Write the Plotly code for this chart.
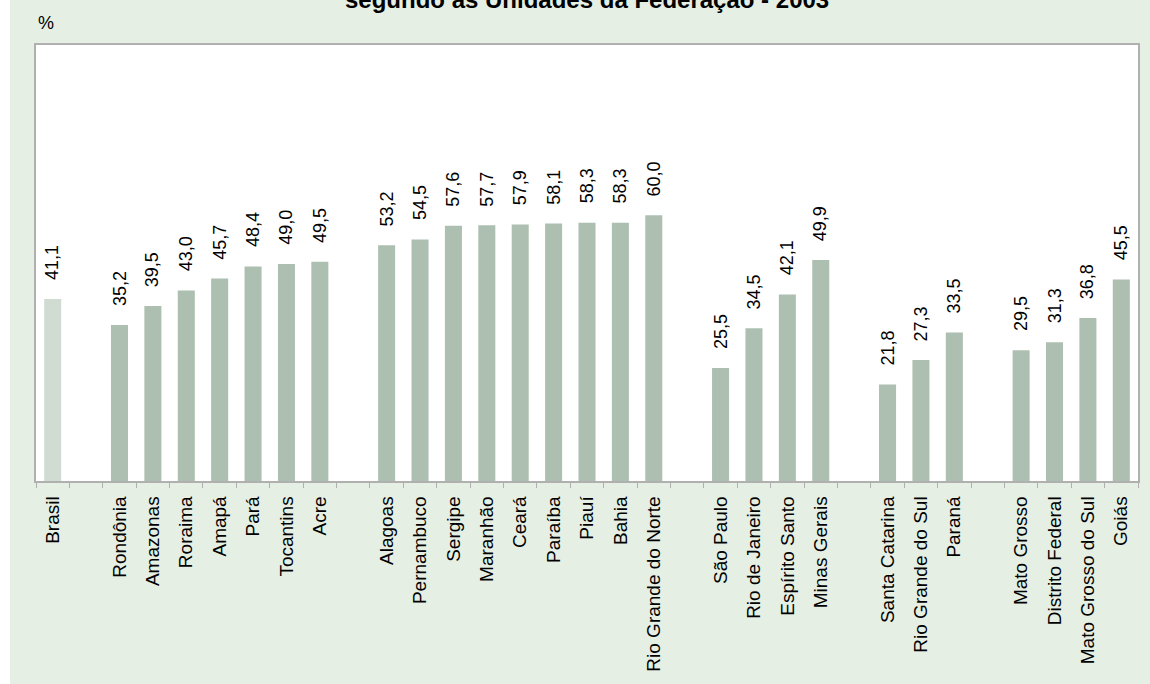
import plotly.graph_objects as go

FONT = "Liberation Sans, Arial, Helvetica, sans-serif"

categories = ["Brasil", " ",
              "Rondônia", "Amazonas", "Roraima", "Amapá", "Pará", "Tocantins", "Acre", "  ",
              "Alagoas", "Pernambuco", "Sergipe", "Maranhão", "Ceará", "Paraíba", "Piauí", "Bahia",
              "Rio Grande do Norte", "   ",
              "São Paulo", "Rio de Janeiro", "Espírito Santo", "Minas Gerais", "    ",
              "Santa Catarina", "Rio Grande do Sul", "Paraná", "     ",
              "Mato Grosso", "Distrito Federal", "Mato Grosso do Sul", "Goiás"]
values = [41.1, None,
          35.2, 39.5, 43.0, 45.7, 48.4, 49.0, 49.5, None,
          53.2, 54.5, 57.6, 57.7, 57.9, 58.1, 58.3, 58.3, 60.0, None,
          25.5, 34.5, 42.1, 49.9, None,
          21.8, 27.3, 33.5, None,
          29.5, 31.3, 36.8, 45.5]

BAR = "#adbfb0"
BRASIL = "#d0dcd2"
colors = [BRASIL if c == "Brasil" else BAR for c in categories]

fig = go.Figure()
fig.add_trace(go.Bar(
    x=categories, y=values, marker=dict(color=colors, line=dict(width=0)),
    width=0.51, hoverinfo="x+y",
))

annotations = []
for c, v in zip(categories, values):
    if v is None:
        continue
    annotations.append(dict(
        x=c, y=v, xref="x", yref="y", text=f"{v:.1f}".replace(".", ","),
        textangle=-90, showarrow=False, yanchor="bottom", xanchor="center",
        yshift=17, font=dict(family=FONT, size=18, color="#000000"),
    ))

annotations.append(dict(
    x=0.5, y=1, xref="paper", yref="paper", yanchor="middle", xanchor="center",
    yshift=46, showarrow=False,
    text="<b>segundo as Unidades da Federação - 2003</b>",
    font=dict(family=FONT, size=24, color="#000000"),
))
annotations.append(dict(
    x=0, y=1, xref="paper", yref="paper", yanchor="bottom", xanchor="left",
    yshift=10, showarrow=False, text="%",
    font=dict(family=FONT, size=18, color="#000000"),
))

fig.update_layout(
    width=1150, height=684,
    margin=dict(l=36, r=10, t=45, b=203),
    paper_bgcolor="#e5efe4",
    plot_bgcolor="#ffffff",
    showlegend=False,
    bargap=0.49,
    annotations=annotations,
    shapes=[dict(type="rect", xref="paper", yref="paper",
                 x0=-0.04, x1=-0.0236, y0=-1, y1=2,
                 fillcolor="#ffffff", line=dict(width=0), layer="below")],
)
fig.update_xaxes(
    type="category", categoryorder="array", categoryarray=categories,
    tickson="boundaries", ticks="outside", ticklen=5, tickcolor="#b0b0b0",
    tickangle=-90, tickfont=dict(family=FONT, size=19, color="#000000"),
    ticklabelstandoff=6,
    showline=True, linecolor="#b0b0b0", linewidth=1.5, mirror=True,
    showgrid=False, zeroline=False,
)
fig.update_yaxes(
    range=[0, 98.4], showticklabels=False, ticks="", showgrid=False,
    zeroline=False, showline=True, linecolor="#b0b0b0", linewidth=1.5, mirror=True,
)

fig.write_html(
    "out.html",
    config={"displayModeBar": False},
    post_script="document.body.style.margin='0';document.body.style.overflow='hidden';",
)
